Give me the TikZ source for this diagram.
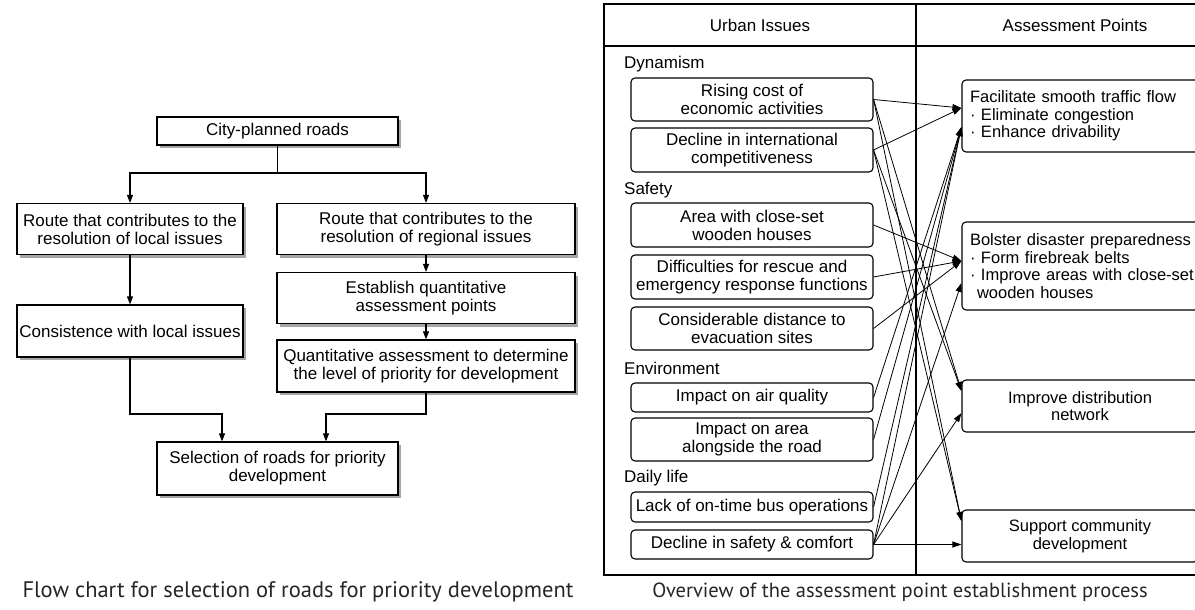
\documentclass[tikz,border=0pt]{standalone}
\usepackage{fontspec}
\setmainfont{Liberation Sans}
\newfontfamily\capfont{PT Sans}
\usetikzlibrary{arrows.meta,shadows}

\tikzset{
  base/.style={font=\fontsize{17}{18}\selectfont, inner sep=0pt},
  flowbox/.style={base, draw, line width=1.3pt, fill=white, align=center,
    drop shadow={shadow xshift=3pt, shadow yshift=-3pt, fill=black!35, opacity=1}},
  issue/.style={base, draw, line width=1.1pt, rounded corners=4pt, align=center,
    minimum width=242pt},
  point/.style={base, font=\fontsize{16.5}{17.5}\selectfont, draw, line width=1.1pt, rounded corners=4pt},
  flow/.style={line width=1.1pt},
  tip/.style={-{Triangle[length=8pt,width=6pt]}},
  link/.style={line width=0.8pt, -{Triangle[length=9pt,width=6pt]}},
  group/.style={base, anchor=west},
  caption/.style={font=\capfont\fontsize{#1}{#1}\selectfont, text=black!85},
}

\begin{document}
\begin{tikzpicture}[x=1pt,y=-1pt]
\useasboundingbox (0,0) rectangle (1195,610);
\clip (0,0) rectangle (1195,610);

% ---------- flow chart ----------
\node[flowbox, minimum width=241pt, minimum height=28pt] (city) at (277.5,131) {City-planned roads};
\node[flowbox, minimum width=226pt, minimum height=51pt] (rloc) at (130,229)
  {Route that contributes to the\\resolution of local issues};
\node[flowbox, minimum width=298pt, minimum height=51pt] (rreg) at (426,229)
  {Route that contributes to the\\resolution of regional issues};
\node[flowbox, minimum width=298pt, minimum height=51pt] (estab) at (426,298)
  {Establish quantitative\\assessment points};
\node[flowbox, minimum width=298pt, minimum height=52pt] (quant) at (426,366)
  {Quantitative assessment to determine\\the level of priority for development};
\node[flowbox, minimum width=226pt, minimum height=52pt] (cons) at (130,331)
  {Consistence with local issues};
\node[flowbox, minimum width=241pt, minimum height=53pt] (sel) at (277.5,468.5)
  {Selection of roads for priority\\development};

\coordinate (bar) at (277.5,173);
\coordinate (ml) at (222,414);
\coordinate (mr) at (326,414);
\draw[flow] (city.south) -- (bar);
\draw[flow,tip] (bar) -| (rloc.north);
\draw[flow,tip] (bar) -| (rreg.north);
\draw[flow,tip] (rloc.south) -- (cons.north);
\draw[flow,tip] (rreg.south) -- (estab.north);
\draw[flow,tip] (estab.south) -- (quant.north);
\draw[flow,tip] (cons.south) |- (ml) -- (ml |- sel.north);
\draw[flow,tip] (quant.south) |- (mr) -- (mr |- sel.north);

\node[caption=22.5] (cap1) at (298,592) {Flow chart for selection of roads for priority development};

% ---------- issues / assessment table ----------
\draw[line width=1.3pt] (604,4) rectangle (1240,575);
\draw[line width=1.3pt] (604,46) -- (1240,46);
\draw[line width=1.3pt] (916,4) -- (916,575);
\node[base] (hl) at (760,25) {Urban Issues};
\node[base] (hr) at (1075,25) {Assessment Points};

\node[group] (gdyn) at (624,64) {Dynamism};
\node[group] (gsaf) at (624,190) {Safety};
\node[group] (genv) at (624,368) {Environment};
\node[group] (gday) at (624,478) {Daily life};

\node[issue, minimum height=43pt] (rise) at (752,99.5) {Rising cost of\\economic activities};
\node[issue, minimum height=44pt] (decl) at (752,150) {Decline in international\\competitiveness};
\node[issue, minimum height=44pt] (area) at (752,225) {Area with close-set\\wooden houses};
\node[issue, minimum height=44pt] (diff) at (752,277) {Difficulties for rescue and\\emergency response functions};
\node[issue, minimum height=43pt] (consd) at (752,328.5) {Considerable distance to\\evacuation sites};
\node[issue, minimum height=29pt] (air) at (752,397.5) {Impact on air quality};
\node[issue, minimum height=43pt] (imp) at (752,439.5) {Impact on area\\alongside the road};
\node[issue, minimum height=30pt] (bus) at (752,507) {Lack of on-time bus operations};
\node[issue, minimum height=29pt] (safe) at (752,544.5) {Decline in safety \& comfort};

\node[point, minimum height=72pt, inner xsep=8pt, text width=262pt, align=left] (pa) at (1101,116)
  {Facilitate smooth traffic flow\\\textperiodcentered\ Eliminate congestion\\\textperiodcentered\ Enhance drivability};
\node[point, minimum height=88pt, inner xsep=8pt, text width=262pt, align=left] (pb) at (1101,266)
  {Bolster disaster preparedness\\\textperiodcentered\ Form firebreak belts\\\textperiodcentered\ Improve areas with close-set\\\hspace{7pt}wooden houses};
\node[point, minimum height=52pt, minimum width=236pt, align=center] (pc) at (1080,406)
  {Improve distribution\\network};
\node[point, minimum height=52pt, minimum width=236pt, align=center] (pd) at (1080,536)
  {Support community\\development};

\coordinate (a1) at ([yshift=8pt]pa.west);
\coordinate (a2) at ([yshift=-11pt]pa.west);
\coordinate (b1) at ([yshift=5pt]pb.west);
\coordinate (b2) at ([yshift=-17pt]pb.west);
\coordinate (c1) at ([yshift=15pt]pc.west);
\coordinate (c2) at ([yshift=-7pt]pc.west);
\coordinate (d1) at ([yshift=15pt]pd.west);
\coordinate (d2) at ([yshift=-8.5pt]pd.west);

\foreach \s/\t in {rise/a1, rise/c1, rise/d1, decl/a1, decl/c1, decl/d1,
                   area/b1, diff/b1, consd/b1,
                   air/a2, imp/a2, bus/a2,
                   safe/a2, safe/b2, safe/c2, safe/d2}
  \draw[link] (\s.east) -- (\t);

\node[caption=20.5] (cap2) at (900,592) {Overview of the assessment point establishment process};
\end{tikzpicture}
\end{document}
